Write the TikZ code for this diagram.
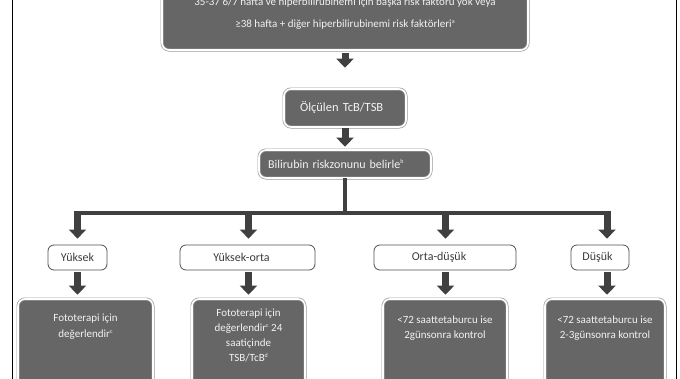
\documentclass[tikz,border=0pt]{standalone}
\usepackage{fontspec}
\setmainfont{Carlito}
\usetikzlibrary{arrows.meta}
\definecolor{boxdark}{HTML}{666666}
\definecolor{arrowc}{HTML}{404040}
\definecolor{ringc}{HTML}{9A9A9A}
\definecolor{textl}{HTML}{F2F2F2}
\definecolor{textd}{HTML}{3C3C3C}
\definecolor{lborder}{HTML}{505050}
\newcommand{\supmark}[1]{\raisebox{0.75ex}{\fontsize{6}{6}\selectfont #1}}
\tikzset{
  darkbox/.style={draw=ringc, line width=0.7pt, double=white, double distance=1.6pt,
    fill=boxdark, rounded corners=7pt, inner sep=0pt},
  lightbox/.style={draw=lborder, line width=0.8pt, fill=white, rounded corners=6pt,
    text=textd, font=\fontsize{12}{14}\selectfont, inner sep=0pt, minimum height=25pt},
  boxtext/.style={text=textl, align=center, inner sep=0pt},
  fatarrow/.style={draw=arrowc, line width=7pt, -{Triangle[width=17pt,length=9pt]}},
  busline/.style={draw=arrowc, line width=4pt},
  frameline/.style={draw=black, line width=0.9pt}
}
\begin{document}
\begin{tikzpicture}[x=1pt,y=-1pt]
\useasboundingbox (0,0) rectangle (680,378);
\clip (0,0) rectangle (680,378);

% frame sides
\coordinate (fl1) at (12,-5);
\coordinate (fl2) at (12,385);
\coordinate (fr1) at (676,-5);
\coordinate (fr2) at (676,385);
\draw[frameline] (fl1) -- (fl2);
\draw[frameline] (fr1) -- (fr2);

% top box
\node[darkbox, minimum width=366pt, minimum height=76pt] (top) at (345,12) {};
\node[boxtext, font=\fontsize{11}{22}\selectfont] (topt) at (345,14)
  {35-37 6/7 hafta ve hiperbilirubinemi için başka risk faktörü yok veya\\
   ≥38 hafta + diğer hiperbilirubinemi risk faktörleri\supmark{a}};

% measured
\node[darkbox, minimum width=122pt, minimum height=38pt, text width=90pt,
  inner xsep=16pt, align=left, text=textl, font=\fontsize{12.5}{14}\selectfont]
  (olc) at (345,108) {Ölçülen TcB/TSB};

% bilirubin zone
\node[darkbox, minimum width=172pt, minimum height=28pt, text width=154pt,
  inner xsep=9pt, align=left, text=textl, font=\fontsize{12}{14}\selectfont]
  (bil) at (345,164) {Bilirubin riskzonunu belirle\supmark{b}};

% level 2
\node[lightbox, minimum width=59pt]  (yuk) at (77.5,257.5) {Yüksek};
\node[lightbox, minimum width=135pt] (yo)  at (247.5,257.5) {\hspace*{-12pt}Yüksek-orta};
\node[lightbox, minimum width=142pt] (od)  at (445,257.5) {\hspace*{-12pt}Orta-düşük};
\node[lightbox, minimum width=58pt]  (dus) at (600,257.5) {\hspace*{-5pt}Düşük};

% bottom boxes
\node[darkbox, minimum width=135pt, minimum height=101pt] (b1) at (85.5,349.5) {};
\node[darkbox, minimum width=113pt, minimum height=101pt] (b2) at (248.5,349.5) {};
\node[darkbox, minimum width=124pt, minimum height=101pt] (b3) at (445,349.5) {};
\node[darkbox, minimum width=120pt, minimum height=101pt] (b4) at (605,349.5) {};

\node[boxtext, font=\fontsize{11}{16}\selectfont] (b1t) at (85.5,327)
  {Fototerapi için\\değerlendir\supmark{c}};
\node[boxtext, font=\fontsize{11}{15}\selectfont] (b2t) at (248.5,335)
  {Fototerapi için\\değerlendir\supmark{c} 24\\saatiçinde\\TSB/TcB\supmark{d}};
\node[boxtext, font=\fontsize{11}{15}\selectfont] (b3t) at (445,328)
  {<72 saattetaburcu ise\\2günsonra kontrol};
\node[boxtext, font=\fontsize{11}{15}\selectfont] (b4t) at (605,328)
  {<72 saattetaburcu ise\\2-3günsonra kontrol};

% connectors
\draw[fatarrow, shorten <=3pt, shorten >=21pt] (top.south) -- (olc.north);
\draw[fatarrow, shorten <=1pt, shorten >=3pt] (olc.south) -- (bil.north);

\coordinate (busM) at (345,213);
\coordinate (busL) at (74,213);
\coordinate (busR) at (610.5,213);
\draw[busline] (bil.south) -- (busM);
\draw[busline] (busL) -- (busR);

\coordinate (a1) at (77.5,211.5);
\coordinate (a2) at (248.5,211.5);
\coordinate (a3) at (445.5,211.5);
\coordinate (a4) at (607,211.5);

\draw[fatarrow, shorten >=6pt] (a1) -- (a1 |- yuk.north);
\draw[fatarrow, shorten >=6pt] (a2) -- (a2 |- yo.north);
\draw[fatarrow, shorten >=6pt] (a3) -- (a3 |- od.north);
\draw[fatarrow, shorten >=6pt] (a4) -- (a4 |- dus.north);

\draw[fatarrow, shorten <=2pt, shorten >=4pt] (a1 |- yuk.south) -- (a1 |- b1.north);
\draw[fatarrow, shorten <=2pt, shorten >=4pt] (a2 |- yo.south) -- (a2 |- b2.north);
\draw[fatarrow, shorten <=2pt, shorten >=4pt] (a3 |- od.south) -- (a3 |- b3.north);
\draw[fatarrow, shorten <=2pt, shorten >=4pt] (a4 |- dus.south) -- (a4 |- b4.north);
\end{tikzpicture}
\end{document}
